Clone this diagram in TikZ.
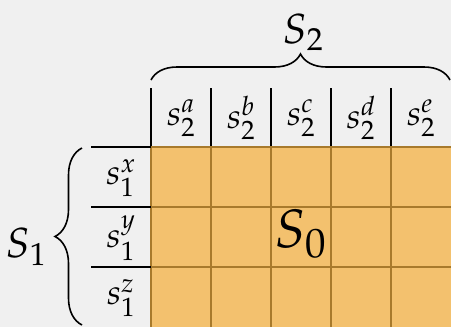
\documentclass[tikz,border=0pt]{standalone}
\usepackage{mathpazo}
\usetikzlibrary{decorations.pathreplacing}
\definecolor{bgc}{HTML}{F0F0F0}
\definecolor{cellc}{HTML}{F3C16E}
\definecolor{gridc}{HTML}{A87A2C}
\tikzset{
  lab/.style={inner sep=0pt, font=\fontsize{35}{40}\selectfont},
  biglab/.style={inner sep=0pt, font=\fontsize{42}{48}\selectfont},
  hdr/.style={black, line width=1.5pt},
  brc/.style={black, line width=1.6pt, decorate},
}
\begin{document}
\begin{tikzpicture}[x=1pt,y=-1pt]
\fill[bgc] (0,0) rectangle (451,327);
\useasboundingbox (0,0) rectangle (451,327);
\node[draw=none, fill=cellc, minimum width=300pt, minimum height=180pt, anchor=north west, inner sep=0pt] (grid) at (151,147) {};
\foreach \x in {151,211,271,331,391}{
  \draw[gridc, line width=1.4pt] (\x,147) -- (\x,327);
  \draw[hdr] (\x,88) -- (\x,147);
}
\foreach \y in {147,207,267}{
  \draw[gridc, line width=1.4pt] (151,\y) -- (451,\y);
  \draw[hdr] (91,\y) -- (151,\y);
}
\node[lab] (ca) at (181,118) {$s_2^a$};
\node[lab] (cb) at (241,118) {$s_2^b$};
\node[lab] (cc) at (301,118) {$s_2^c$};
\node[lab] (cd) at (361,118) {$s_2^d$};
\node[lab] (ce) at (421,118) {$s_2^e$};
\node[lab] (rx) at (121,178) {$s_1^x$};
\node[lab] (ry) at (121,238) {$s_1^y$};
\node[lab] (rz) at (121,298) {$s_1^z$};
\coordinate (tl) at (151,80);
\coordinate (tr) at (450,80);
\coordinate (lb) at (82,325);
\coordinate (lt) at (82,148);
\draw[brc, decoration={brace, amplitude=26pt}] (tl) -- (tr);
\draw[brc, decoration={brace, amplitude=27pt}] (lb) -- (lt);
\node[biglab] (S2) at (303,32) {$S_2$};
\node[biglab] (S1) at (26,247) {$S_1$};
\node[inner sep=0pt, font=\fontsize{54}{60}\selectfont] (S0) at (301,234) {$S_0$};
\end{tikzpicture}
\end{document}
